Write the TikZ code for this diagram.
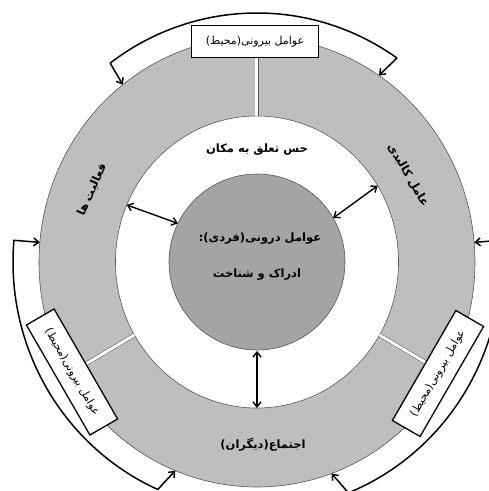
\documentclass[tikz,border=0pt]{standalone}
\usepackage{fontspec}
\usetikzlibrary{arrows.meta}
\newfontfamily\arabicfont[Script=Arabic]{DejaVu Sans}
\TeXXeTstate=1
\definecolor{RingGray}{HTML}{BEBEBE}
\definecolor{CoreGray}{HTML}{A4A4A4}
\definecolor{EdgeGray}{HTML}{555555}

\begin{document}
\begin{tikzpicture}[x=1pt,y=1pt,
    ring/.style={draw=EdgeGray, line width=0.6pt},
    divider/.style={draw=EdgeGray, line width=0.5pt, double=white, double distance=3pt},
    band/.style={line width=1.5pt, line join=round},
    link/.style={line width=1.4pt, {Straight Barb[length=5pt,width=8pt]}-{Straight Barb[length=5pt,width=8pt]}},
    envbox/.style={draw, line width=1.3pt, fill=white, minimum width=127pt, minimum height=32pt, inner sep=0pt, font=\arabicfont\fontsize{11}{12}\selectfont},
    factor/.style={font=\arabicfont\bfseries\fontsize{11.5}{13}\selectfont}]
        \useasboundingbox (-257,-229) rectangle (232,262);
        \clip (-257,-229) rectangle (232,262);
        % rings
        \filldraw[ring, fill=RingGray] (0,0) ellipse [x radius=218, y radius=225];
        \filldraw[ring, fill=white] (0,0) ellipse [x radius=141.5, y radius=146];
        \filldraw[ring, fill=CoreGray] (0,0) circle [radius=88];
        % dividers of the outer ring
        \draw[divider] (90:141.5 and 146) -- (90:218 and 225);
        \draw[divider] (210:141.5 and 146) -- (210:218 and 225);
        \draw[divider] (330:141.5 and 146) -- (330:218 and 225);
        % ends of the outer band
        \coordinate (tl-out) at (127:244 and 249);
        \coordinate (tl-in) at (128:218 and 225);
        \coordinate (tr-out) at (55:244 and 249);
        \coordinate (tr-in) at (56:218 and 225);
        \coordinate (l-out) at (175:244 and 249);
        \coordinate (l-in) at (175:218 and 225);
        \coordinate (bl-out) at (246:244 and 249);
        \coordinate (bl-in) at (248:218 and 225);
        \coordinate (r-out) at (5:244 and 249);
        \coordinate (r-in) at (5:218 and 225);
        \coordinate (br-out) at (-68:244 and 249);
        \coordinate (br-in) at (-70:218 and 225);
        \draw[band, {Straight Barb[length=5pt,width=8pt]}-{Straight Barb[length=5pt,width=8pt]}] (tl-in) -- (tl-out) arc [start angle=127, end angle=55, x radius=244, y radius=249] -- (tr-in);
        \draw[band, {Straight Barb[length=5pt,width=8pt]}-{Straight Barb[length=5pt,width=8pt]}] (l-in) -- (l-out) arc [start angle=175, end angle=246, x radius=244, y radius=249] -- (bl-in);
        \draw[band, {Straight Barb[length=5pt,width=8pt]}-{Straight Barb[length=5pt,width=8pt]}] (r-in) -- (r-out) arc [start angle=5, end angle=-68, x radius=244, y radius=249] -- (br-in);
        % environment boxes
        \node[envbox] (env-top) at (-2,220.5) {\beginR عوامل بیرونی(محیط)\endR};
        \node[envbox, rotate=-60] (env-left) at (-185,-110) {\beginR عوامل بیرونی(محیط)\endR};
        \node[envbox, rotate=60] (env-right) at (181,-111.5) {\beginR عوامل بیرونی(محیط)\endR};
        % texts
        \node[factor] (sense) at (0,112) {\beginR حس تعلق به مکان\endR};
        \node[factor] (inner-a) at (3,23) {\beginR عوامل درونی(فردی):\endR};
        \node[factor] (inner-b) at (0,-13) {\beginR ادراک و شناخت\endR};
        \node[factor] (social) at (6,-183) {\beginR اجتماع(دیگران)\endR};
        \node[factor, rotate=66] (activity) at (-165,72) {\beginR فعالیت ها\endR};
        \node[factor, rotate=-60] (physical) at (151,87) {\beginR عامل کالبدی\endR};
        % links between the core and the middle ring
        \coordinate (core-l) at (154:88);
        \coordinate (mid-l) at (157:141.5 and 146);
        \coordinate (core-r) at (30:88);
        \coordinate (mid-r) at (31.5:141.5 and 146);
        \coordinate (core-b) at (-90:89);
        \coordinate (mid-b) at (-90:141.5 and 146);
        \draw[link] (mid-l) -- (core-l);
        \draw[link] (mid-r) -- (core-r);
        \draw[link] (core-b) -- (mid-b);
\end{tikzpicture}
\end{document}
